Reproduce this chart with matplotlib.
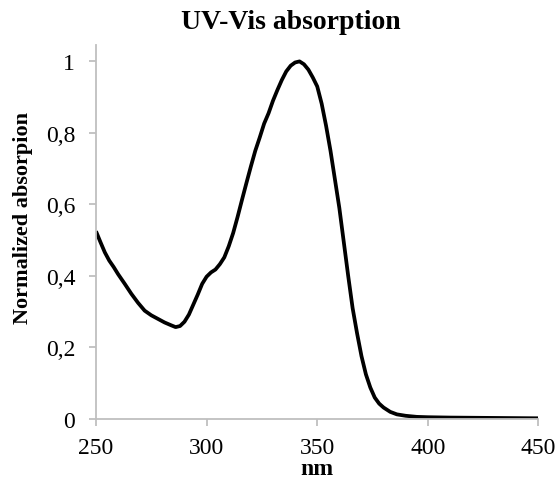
import numpy as np
import matplotlib
matplotlib.use('Agg')
import matplotlib.pyplot as plt

plt.rcParams['font.family'] = ['Liberation Serif', 'DejaVu Serif']

# normalized UV-Vis absorption spectrum
wavelength = [250, 252, 254, 256, 258, 260, 263, 266, 269, 272, 275, 278, 281,
              284, 286, 288, 290, 292, 294, 296, 298, 300, 302, 304, 306, 308,
              310, 312, 314, 316, 318, 320, 322, 324, 326, 328, 330, 332, 334,
              336, 338, 340, 342, 344, 346, 348, 350, 352, 354, 356, 358, 360,
              362, 364, 366, 368, 370, 372, 374, 376, 378, 380, 383, 386, 390,
              395, 400, 410, 430, 450]
absorption = [0.525, 0.495, 0.466, 0.443, 0.425, 0.405, 0.378, 0.35, 0.325,
              0.303, 0.29, 0.28, 0.27, 0.262, 0.257, 0.26, 0.272, 0.292, 0.32,
              0.348, 0.378, 0.398, 0.41, 0.418, 0.433, 0.452, 0.483, 0.52,
              0.565, 0.613, 0.66, 0.706, 0.75, 0.787, 0.826, 0.855, 0.89, 0.92,
              0.948, 0.972, 0.988, 0.997, 1.0, 0.992, 0.977, 0.955, 0.93, 0.882,
              0.82, 0.75, 0.67, 0.59, 0.495, 0.40, 0.31, 0.24, 0.176, 0.125,
              0.088, 0.06, 0.043, 0.032, 0.02, 0.013, 0.009, 0.006, 0.005,
              0.004, 0.003, 0.002]

x_ticks = [250, 300, 350, 400, 450]
y_ticks = [0, 0.2, 0.4, 0.6, 0.8, 1.0]
y_ticklabels = ['0', '0,2', '0,4', '0,6', '0,8', '1']

fig = plt.figure(figsize=(5.58, 4.85), dpi=100)
ax = fig.add_axes([0.172, 0.134, 0.793, 0.772])

ax.plot(wavelength, absorption, color='black', lw=2.7,
        solid_joinstyle='round', solid_capstyle='butt')

ax.set_xlim(250, 450)
ax.set_ylim(0, 1.047)
ax.set_xticks(x_ticks)
ax.set_yticks(y_ticks)
ax.set_yticklabels(y_ticklabels)

for side in ['top', 'right']:
    ax.spines[side].set_visible(False)
for side in ['left', 'bottom']:
    ax.spines[side].set_color('#BFBFBF')
    ax.spines[side].set_linewidth(1.3)

ax.tick_params(axis='both', direction='out', length=5, width=1.3,
               color='#BFBFBF', labelsize=17)
ax.tick_params(axis='y', pad=10)
ax.tick_params(axis='x', pad=8)

ax.set_title('UV-Vis absorption', fontsize=20, fontweight='bold',
             x=0.44, pad=12)
ax.set_xlabel('nm', fontsize=17, fontweight='bold', labelpad=0)
ax.set_ylabel('Normalized absorpion', fontsize=16, fontweight='bold')
ax.yaxis.set_label_coords(-0.142, 0.54)

fig.savefig('out.png', dpi=100)
